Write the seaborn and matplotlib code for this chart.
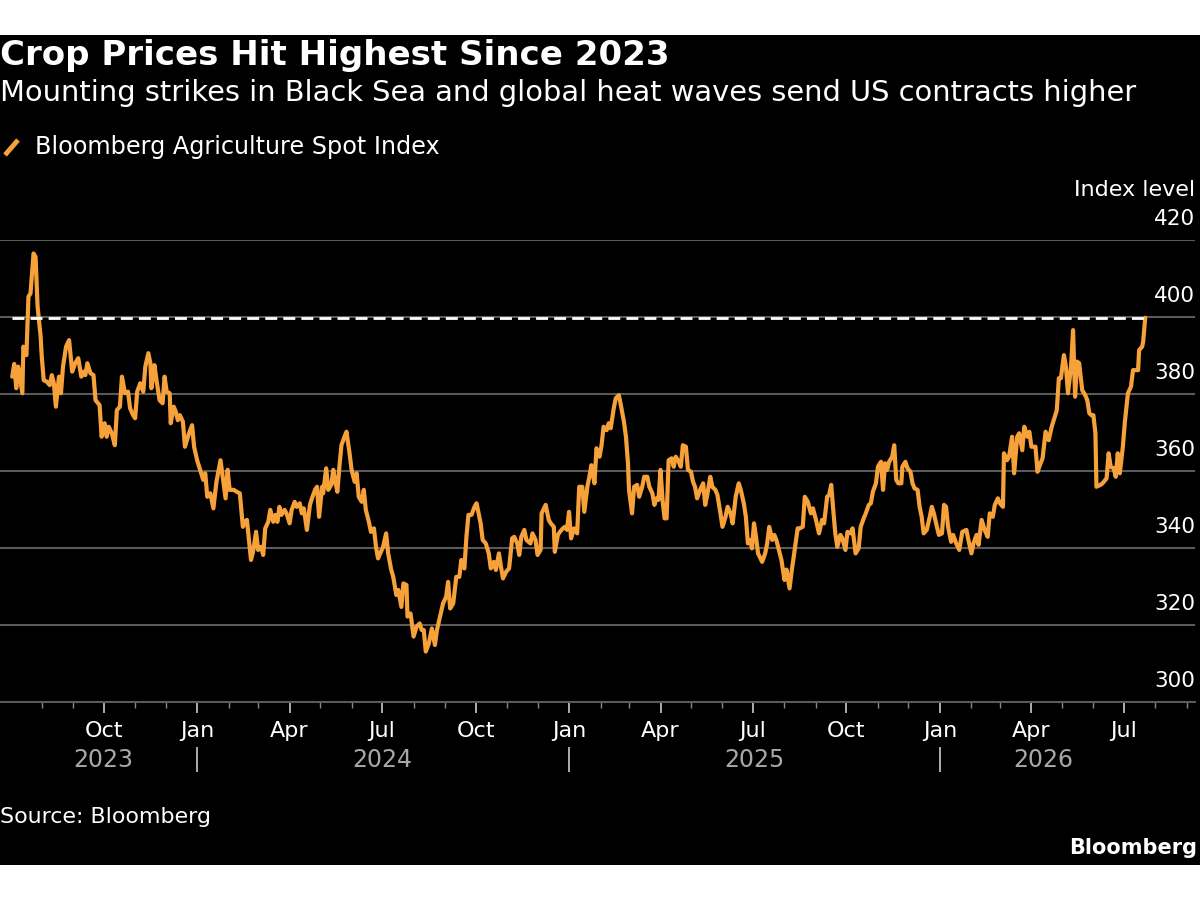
import numpy as np
import pandas as pd
import matplotlib
matplotlib.use("Agg")
import matplotlib.pyplot as plt
import matplotlib.dates as mdates
import matplotlib.ticker as mticker
import matplotlib.transforms as mtransforms
from matplotlib.lines import Line2D
from matplotlib.patches import Rectangle
import seaborn as sns

# ---------------- data ----------------
start_date = "2023-07-03"
day_offsets = [
    0, 2, 4, 6, 8, 10, 11, 14, 16, 18, 21, 23, 25, 28, 29, 31, 34, 37, 39, 41,
    43, 46, 48, 50, 53, 56, 59, 62, 65, 68, 70, 72, 74, 77, 80, 82, 86, 88, 91, 93,
    95, 98, 101, 103, 106, 108, 111, 114, 116, 119, 121, 123, 126, 129, 131, 134, 136, 137, 140, 142,
    145, 148, 150, 152, 155, 156, 159, 161, 163, 165, 168, 170, 174, 177, 179, 182,
    184, 188, 190, 192, 195, 198, 201, 205, 208, 210, 212, 214, 218, 221, 224, 227, 229, 231, 233, 235,
    237, 240, 242, 245, 247, 249, 252, 254, 257, 259, 261, 263, 265, 268, 270, 273, 275, 278, 280, 283,
    285, 287, 290, 293, 295, 298, 300, 302, 305, 306, 309, 311, 314, 316, 318, 320, 322, 324, 327, 329,
    332, 334, 337, 339, 341, 344, 346, 348, 351, 353, 356, 358, 360,
    365, 368, 370, 373, 375, 378, 380, 383, 385, 388, 389, 392, 395, 398, 401, 403, 405, 407, 410, 413,
    416, 418, 421, 424, 427, 429, 431, 434, 437, 440, 442, 445, 447, 449, 452, 455, 457, 461, 463, 466,
    469, 471, 474, 476, 479, 481, 483, 486, 489, 492, 494, 497, 499, 501, 504, 506, 510, 512, 515, 517,
    520, 521, 525, 528, 530, 533, 534, 537, 539, 542, 544, 546, 548, 550, 553, 556, 558, 561, 563, 566,
    568, 570, 573, 575, 578, 580, 582, 585, 587, 589, 592, 594, 597, 599, 602, 604, 606, 607, 610, 612,
    615, 617, 620, 622, 625, 627, 630, 632, 634, 636, 638, 640, 642, 644, 646, 649, 651, 653, 656, 658,
    660, 663, 665, 668, 670, 672, 674, 677, 680, 682, 684, 687, 689, 692, 694, 697, 699, 702, 704, 707,
    709, 712, 715, 717, 720, 722, 724, 726, 728, 730, 732, 734, 738, 741, 743, 745,
    748, 750, 752, 755, 757, 760, 762, 765, 767, 770, 773, 775, 778, 780, 783, 786, 788, 791, 794, 797,
    799, 802, 804, 806, 808, 810, 812, 815, 817, 820, 822, 825, 827, 830, 833, 835, 838, 840, 843, 845,
    847, 850, 852, 855, 857, 859, 861, 863, 866, 868, 870, 872, 875, 876, 879, 881, 884, 886, 888, 891,
    893, 895, 897, 900, 903, 905, 907, 910, 912, 915, 917, 919, 921, 924, 926, 929, 932, 935, 939, 941,
    944, 946, 949, 951, 954, 957, 960, 962, 965, 967, 970, 972, 975, 976, 979, 981, 984, 986, 989, 991,
    994, 996, 999, 1001, 1003, 1007, 1009, 1012, 1014, 1017, 1020, 1023, 1025, 1028, 1030, 1032, 1035, 1037, 1039, 1042,
    1044, 1046, 1048, 1050, 1053, 1056, 1058, 1060, 1062, 1064, 1066, 1067, 1071, 1073, 1077, 1079, 1081, 1084, 1086, 1088,
    1090, 1093, 1095, 1098, 1101, 1103, 1105, 1108, 1109, 1112, 1113, 1115,
]
index_values = [
    384.5, 387.8, 381.5, 387.1, 383.6, 380.2, 392.3, 390.1, 405.3, 406.1, 416.5, 415.6, 402.7, 394.9, 390.1, 383.6, 383.2, 382.3, 384.9, 382.8,
    376.7, 384.5, 380.2, 387.1, 392.3, 394.0, 385.8, 388.0, 389.3, 384.5, 385.8, 384.9, 388.0, 385.4, 384.9, 378.4, 377.1, 368.9, 372.4, 368.9,
    371.5, 369.8, 366.7, 375.8, 376.7, 384.5, 380.2, 380.6, 376.3, 374.5, 373.7, 380.6, 382.8, 380.6, 387.1, 390.6, 388.0, 381.5, 387.5, 383.6,
    378.4, 377.6, 384.5, 380.6, 380.2, 372.4, 376.7, 375.4, 373.2, 374.5, 372.8, 366.3, 369.8, 371.9, 366.3, 362.8,
    361.1, 357.7, 359.4, 353.3, 354.2, 350.3, 357.2, 362.8, 356.8, 352.9, 360.3, 355.1, 355.1, 354.6, 354.2, 345.5, 346.8, 347.3, 342.1, 336.9,
    339.0, 344.2, 339.5, 340.3, 338.2, 345.1, 346.8, 349.9, 346.8, 348.6, 346.8, 350.7, 348.6, 349.9, 349.0, 346.4, 349.9, 352.0, 350.7, 351.6,
    349.0, 350.3, 344.7, 351.2, 352.9, 355.1, 355.9, 348.1, 355.9, 354.2, 360.7, 355.1, 356.4, 360.3, 357.2, 354.6, 361.1, 366.7, 368.9, 370.2,
    364.6, 360.3, 357.2, 359.4, 353.3, 352.0, 355.1, 349.9, 346.8, 344.2, 345.1, 340.3, 337.3,
    340.3, 343.8, 338.6, 334.3, 332.5, 327.8, 329.1, 324.7, 330.8, 330.4, 322.2, 323.0, 317.0, 319.6, 320.4, 318.7, 318.7, 313.1, 315.2, 319.1,
    314.8, 318.7, 322.2, 325.6, 327.3, 331.2, 324.3, 325.6, 332.5, 332.5, 336.9, 334.7, 342.9, 348.6, 348.6, 350.7, 351.6, 346.4, 342.1, 341.2,
    338.6, 334.7, 336.4, 334.3, 338.6, 335.1, 332.1, 333.8, 334.7, 342.5, 342.9, 341.2, 338.2, 342.9, 344.7, 342.1, 341.2, 343.8, 342.1, 338.2,
    339.5, 349.0, 351.2, 347.3, 346.4, 345.5, 339.0, 343.4, 344.2, 345.1, 345.5, 344.7, 349.4, 342.5, 345.1, 343.8, 355.9, 355.9, 349.4, 355.9,
    358.5, 361.5, 356.8, 365.9, 363.7, 366.7, 371.5, 370.6, 372.4, 371.1, 376.3, 378.9, 379.7, 377.1, 372.8, 368.9, 362.0, 355.1, 349.0, 355.9,
    356.4, 353.3, 355.9, 358.5, 358.5, 355.9, 354.2, 351.2, 352.9, 352.5, 360.3, 352.5, 347.7, 347.7, 362.8, 363.3, 361.1, 363.7, 362.4, 361.1,
    366.7, 366.3, 360.3, 359.8, 357.2, 355.9, 352.9, 355.1, 356.8, 351.2, 353.8, 358.5, 355.9, 355.1, 353.8, 349.0, 345.5, 348.1, 350.7, 349.0,
    346.4, 353.3, 356.8, 355.1, 351.6, 348.1, 341.2, 342.1, 339.9, 346.4, 342.9, 338.6, 336.4, 338.6, 341.2, 345.5,
    342.1, 343.4, 342.1, 339.0, 336.9, 331.7, 334.4, 329.5, 333.8, 339.5, 345.1, 345.1, 345.5, 353.3, 352.0, 349.0, 350.3, 347.3, 343.8, 347.3,
    346.4, 353.3, 353.8, 356.4, 349.9, 343.8, 340.3, 343.4, 342.5, 339.5, 344.2, 343.8, 345.1, 338.6, 339.9, 345.5, 347.7, 349.0, 351.2, 351.6,
    354.6, 356.8, 361.1, 362.4, 355.1, 362.0, 360.3, 362.4, 363.7, 366.7, 357.7, 356.8, 356.8, 361.1, 362.4, 360.7, 359.8, 356.8, 355.5, 355.1,
    350.7, 348.1, 343.8, 344.7, 348.1, 350.7, 349.0, 345.5, 343.4, 343.8, 351.2, 350.7, 345.5, 341.6, 343.4, 341.2, 339.5, 344.2, 344.7, 342.1,
    338.6, 341.2, 343.4, 340.8, 347.3, 344.7, 342.9, 349.0, 348.1, 351.2, 352.9, 351.6, 350.7, 364.6, 362.8, 363.7, 368.9, 359.4, 368.9, 369.8,
    365.4, 371.5, 368.9, 370.2, 366.3, 366.3, 359.8, 362.0, 363.3, 370.2, 368.0, 371.5, 373.2, 375.8, 384.1, 384.1, 390.1, 387.1, 380.2, 387.1,
    396.6, 379.3, 388.4, 388.0, 381.0, 379.7, 378.4, 375.0, 374.5, 374.5, 369.8, 355.9, 356.4, 356.8, 358.1, 364.6, 361.1, 360.7, 358.5, 364.6,
    359.4, 366.3, 372.8, 380.2, 381.9, 386.2, 386.2, 386.2, 391.4, 392.3, 393.6, 399.8,
]
assert len(day_offsets) == len(index_values)

y_ticks = [300, 320, 340, 360, 380, 400, 420]
years = [2023, 2024, 2025, 2026]
x_major_ticks = pd.date_range("2023-10-01", "2026-07-01", freq="QS-JAN")
x_minor_ticks = pd.date_range("2023-08-01", "2026-09-01", freq="MS")

title = "Crop Prices Hit Highest Since 2023"
subtitle = "Mounting strikes in Black Sea and global heat waves send US contracts higher"
series_name = "Bloomberg Agriculture Spot Index"
y_unit = "Index level"
source = "Source: Bloomberg"
brand = "Bloomberg"

ORANGE = "#F7A13A"
GRID = "#5a5a5a"
GREY_TXT = "#a8a8a8"

# ---------------- style ----------------
sns.set_theme(style="dark")
plt.rcParams["font.family"] = ["DejaVu Sans"]
plt.rcParams["text.color"] = "white"

dates = pd.to_datetime(start_date) + pd.to_timedelta(day_offsets, unit="D")
df = pd.DataFrame({"date": dates, "value": index_values})

fig = plt.figure(figsize=(12, 9), dpi=100, facecolor="white")
fig.add_artist(Rectangle((0, 35 / 900), 1, 830 / 900, transform=fig.transFigure,
                         facecolor="black", edgecolor="none", zorder=-5))

W, H = 1200, 900
ax_left, ax_right, ax_bottom, ax_top = 0, 1195, 702, 240
ax = fig.add_axes([ax_left / W, 1 - ax_bottom / H, (ax_right - ax_left) / W, (ax_bottom - ax_top) / H])
ax.set_facecolor("black")

sns.lineplot(data=df, x="date", y="value", ax=ax, color=ORANGE, linewidth=3.0, zorder=3)

last_val = index_values[-1]
ax.hlines(last_val, dates[0], dates[-1], colors="white", linewidth=2.0,
          linestyles=(0, (4.3, 2.2)), zorder=4)

ax.set_ylim(300, 420)
ax.set_xlim(pd.Timestamp("2023-06-21"), pd.Timestamp("2026-09-09"))
ax.set_xlabel("")
ax.set_ylabel("")

for s in ["top", "left", "right"]:
    ax.spines[s].set_visible(False)
ax.spines["bottom"].set_color(GRID)
ax.spines["bottom"].set_linewidth(1.5)

ax.yaxis.grid(True, color=GRID, linewidth=1.5)
ax.xaxis.grid(False)

# y ticks on the right, labels above the gridlines
ax.yaxis.tick_right()
ax.set_yticks(y_ticks)
ax.set_yticklabels([str(v) for v in y_ticks])
ax.tick_params(axis="y", length=0, pad=0, labelsize=15.5, labelcolor="white")
offset = mtransforms.ScaledTranslation(0, 0.21, fig.dpi_scale_trans)
for lbl in ax.get_yticklabels():
    lbl.set_horizontalalignment("right")
    lbl.set_verticalalignment("center")
    lbl.set_transform(lbl.get_transform() + offset)

ax.text(1.0, (ax_bottom - 190) / (ax_bottom - ax_top), y_unit, transform=ax.transAxes,
        ha="right", va="center", fontsize=16, color="white")

# x ticks
ax.xaxis.set_major_locator(mticker.FixedLocator(mdates.date2num(x_major_ticks)))
ax.xaxis.set_major_formatter(mdates.DateFormatter("%b"))
ax.xaxis.set_minor_locator(mticker.FixedLocator(mdates.date2num(x_minor_ticks)))
ax.tick_params(axis="x", which="major", length=8, width=1.3, color="#bbbbbb",
               direction="out", pad=6, labelsize=16, labelcolor="white", bottom=True)
ax.tick_params(axis="x", which="minor", length=4, width=1.0, color="#888888",
               direction="out", bottom=True)

# year labels centered on each year's data span, separators at year starts
blend = mtransforms.blended_transform_factory(ax.transData, ax.transAxes)
y_year = (ax_bottom - 760) / (ax_bottom - ax_top)
for yr in years:
    d = df["date"][df["date"].dt.year == yr]
    mid = d.min() + (d.max() - d.min()) / 2
    ax.text(mid, y_year, str(yr), transform=blend, ha="center", va="center",
            fontsize=17, color=GREY_TXT)
    if yr != years[0]:
        ax.text(pd.Timestamp(f"{yr}-01-01"), y_year, "|", transform=blend,
                ha="center", va="center", fontsize=17, color=GREY_TXT)

# titles and legend
fig.text(0 / W, 1 - 55 / H, title, fontsize=24.5, fontweight="bold", color="white", va="center", ha="left")
fig.text(0 / W, 1 - 93 / H, subtitle, fontsize=20.8, color="white", va="center", ha="left")
fig.add_artist(Line2D([5 / W, 18 / W], [1 - 155 / H, 1 - 140 / H], transform=fig.transFigure,
                      color=ORANGE, linewidth=3.5, solid_capstyle="butt"))
fig.text(35 / W, 1 - 147 / H, series_name, fontsize=17.2, color="white", va="center", ha="left")

fig.text(0 / W, 1 - 817 / H, source, fontsize=15.9, color="white", va="center", ha="left")
fig.text(1197 / W, 1 - 848 / H, brand, fontsize=15, fontweight="bold", color="white", va="center", ha="right")

fig.savefig("out.png", dpi=100, facecolor="white")
